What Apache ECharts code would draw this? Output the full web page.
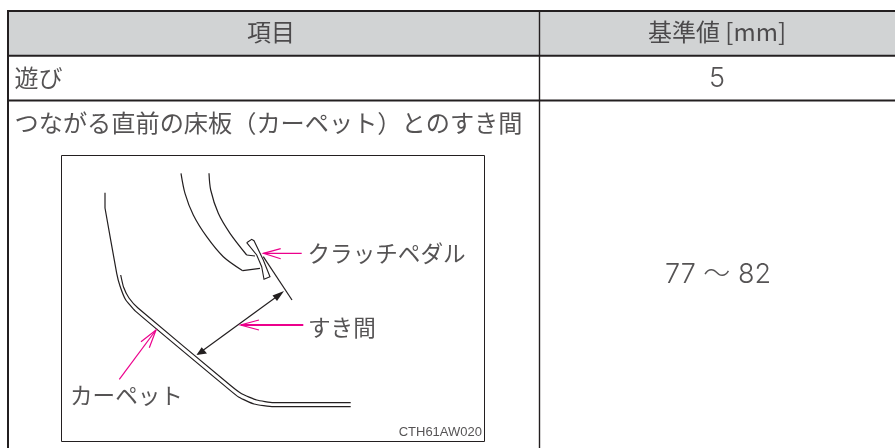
<!DOCTYPE html>
<html>
<head>
<meta charset="utf-8">
<style>html,body{margin:0;padding:0;background:#fff}#main{width:895px;height:448px}</style>
<script src="https://cdn.jsdelivr.net/npm/echarts@6/dist/echarts.min.js"></script>
</head>
<body>
<div id="main"></div>
<script>
var INK = '#231f20', PINK = '#ec008c', HEAD = '#d1d3d4';
var JP = '"Noto Sans CJK JP"';
var NUM = 'Inter, "Noto Sans CJK JP"';

// table cells
var headerLabels = ['項目', '基準値 [mm]'];
var rowLabels = ['遊び', 'つながる直前の床板（カーペット）とのすき間'];
var rowValues = ['5', '77 ～ 82'];

// table rules
var ruleTop = [[7, 11], [895, 11]];
var ruleHead = [[7, 55.8], [895, 55.8]];
var ruleRow = [[7, 100.5], [895, 100.5]];
var ruleLeft = [[8, 10], [8, 448]];
var ruleMid = [[539.5, 11], [539.5, 448]];
var headerBand = [[8, 11], [895, 55.8]];

// drawing frame
var frame = [[61.5, 155.5], [484.5, 155.5], [484.5, 441.5], [61.5, 441.5], [61.5, 155.5]];

// carpet, two parallel strokes
var carpetUpper = [[105, 192.7], [105, 208]];
var carpetOuter = [[105, 208], [116.7, 273.3], [120, 286], [125.5, 299.5], [135.4, 311.1], [227.4, 388.1], [239, 397.3], [254, 404], [273.3, 406.7], [350.7, 406.7]];
var carpetInner = [[120.7, 275], [123.5, 287], [129, 298], [138, 308], [230, 385], [241.7, 393.8], [256.7, 400], [273.3, 402.7], [350.7, 402.7]];

// pedal arm and pad
var armOuter = [[181, 173.3], [185, 193.3], [193.3, 215], [206.7, 236.7], [223.3, 256.7], [242.7, 270.7]];
var armOuterFoot = [[242.7, 270.7], [260, 268.3]];
var armInner = [[209, 173.3], [210.7, 190], [218.3, 213.3], [230, 233.3], [246.7, 255]];
var armInnerFoot = [[246.7, 255], [255, 256]];
var pad = [[246.7, 242.7], [251.7, 239.3], [254, 240.7], [263.3, 260], [270, 276.7], [264, 279.3], [261.7, 266.7], [256.7, 255], [246.7, 242.7]];

// gap measure
var gapLimit = [[263.3, 256.7], [292, 300]];
var gapArrow = [[281, 293.5], [198, 354]];
var gapHeadTop = [[284, 291], [272.5, 295.5], [277, 301]];
var gapHeadBottom = [[196.5, 355], [201.7, 347.3], [207, 353.5]];

// callout arrows
var pedalCall = [[[301.7, 253.3], [263.5, 253.3]], [[280.7, 248.7], [263.5, 253.3], [280.7, 258.7]]];
var gapCall = [[[303.3, 325], [241, 325]], [[259, 320], [240.5, 325], [259, 330]]];
var carpetCall = [[[119.3, 379.3], [156, 330]], [[141, 341.7], [156, 330], [149.3, 347.7]]];

function stroke(points, width, color, smooth) {
  return {
    type: 'line', data: points, showSymbol: false, silent: true, animation: false,
    smooth: smooth || false, clip: false,
    lineStyle: { color: color, width: width, cap: 'butt', join: 'miter' }
  };
}

function solidHead(points) {
  return {
    type: 'custom', data: [0], silent: true, animation: false,
    renderItem: function (params, api) {
      return {
        type: 'polygon',
        shape: { points: points.map(function (p) { return api.coord(p); }) },
        style: { fill: INK }
      };
    }
  };
}

// one text per point, placed through the same axes as the strokes
function caption(text, x, y, size, align, font, weight) {
  return {
    type: 'scatter', data: [[x, y]], symbolSize: 0, silent: true, animation: false,
    label: {
      show: true, position: 'inside', formatter: text, fontFamily: font || JP, fontSize: size,
      color: '#2b2829', align: align, verticalAlign: 'middle', fontWeight: weight || 'normal'
    }
  };
}

var bandSeries = {
  type: 'custom', data: [0], silent: true, animation: false,
  renderItem: function (params, api) {
    var a = api.coord(headerBand[0]), b = api.coord(headerBand[1]);
    return { type: 'rect', shape: { x: a[0], y: a[1], width: b[0] - a[0], height: b[1] - a[1] }, style: { fill: HEAD } };
  }
};

var series = [
  bandSeries,
  stroke(ruleTop, 2.2, INK), stroke(ruleHead, 2, INK), stroke(ruleRow, 2, INK),
  stroke(ruleLeft, 2, INK), stroke(ruleMid, 1.4, INK),
  stroke(frame, 1, INK),
  stroke(carpetUpper, 1.2, INK), stroke(carpetOuter, 1.2, INK, 0.15), stroke(carpetInner, 1.2, INK, 0.15),
  stroke(armOuter, 1.2, INK, 0.3), stroke(armOuterFoot, 1.2, INK),
  stroke(armInner, 1.2, INK, 0.3), stroke(armInnerFoot, 1.2, INK),
  stroke(pad, 1.1, INK),
  stroke(gapLimit, 1.2, INK), stroke(gapArrow, 1.2, INK),
  solidHead(gapHeadTop), solidHead(gapHeadBottom),
  stroke(pedalCall[0], 1.2, PINK), stroke(pedalCall[1], 1.2, PINK),
  stroke(gapCall[0], 2, PINK), stroke(gapCall[1], 1.2, PINK),
  stroke(carpetCall[0], 1.2, PINK), stroke(carpetCall[1], 1.2, PINK),
  caption(headerLabels[0], 271, 32, 24, 'center'),
  caption(headerLabels[1], 717, 32, 24, 'center'),
  caption(rowLabels[0], 14.5, 78, 24, 'left'),
  caption(rowValues[0], 717, 79, 27, 'center', NUM, 300),
  caption(rowLabels[1], 14.5, 123, 24.2, 'left'),
  caption(rowValues[1], 718, 275, 27, 'center', NUM, 300),
  caption('クラッチペダル', 307.5, 253, 22.6, 'left'),
  caption('すき間', 308, 327, 22.6, 'left'),
  caption('カーペット', 70, 395, 22.6, 'left'),
  caption('CTH61AW020', 482, 432, 13, 'right', '"Liberation Sans"')
];

var myChart = echarts.init(document.getElementById('main'));
myChart.setOption({
  backgroundColor: '#fff',
  animation: false,
  grid: { left: 0, right: 0, top: 0, bottom: 0 },
  xAxis: { type: 'value', min: 0, max: 895, show: false },
  yAxis: { type: 'value', min: 0, max: 448, inverse: true, show: false },
  series: series
});
</script>
</body>
</html>
